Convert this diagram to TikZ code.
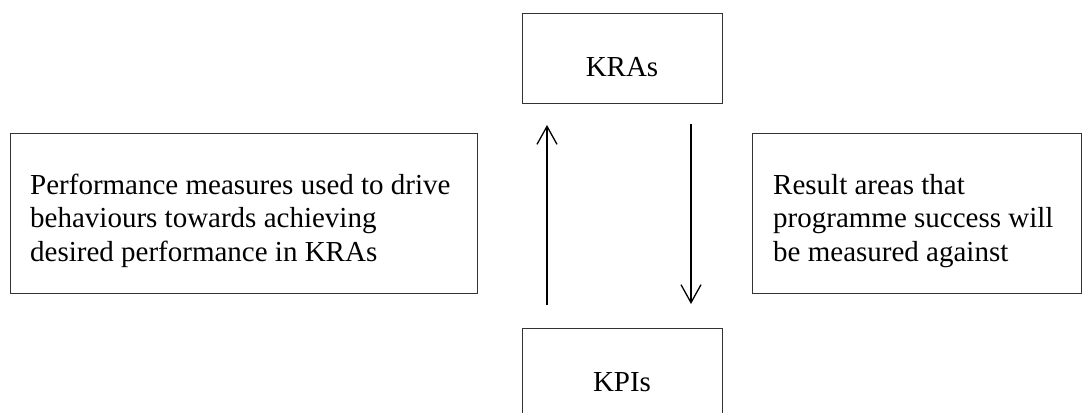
\documentclass[tikz,border=0pt]{standalone}
\usepackage{fontspec}
\setmainfont{Liberation Serif}
\usetikzlibrary{arrows.meta}
\begin{document}
\begin{tikzpicture}[x=1pt,y=-1pt,
  box/.style={draw=black!80, line width=1.3pt, rectangle, inner sep=0pt, anchor=north west},
  txt/.style={inner sep=0pt, font=\fontsize{29}{33.5}\selectfont},
  flow/.style={line width=1.3pt, -{Straight Barb[length=18pt,width=20pt,line width=1.3pt]}}]
\useasboundingbox (0,0) rectangle (1091,412);

% boxes (the KPIs box runs past the bottom of the page)
\node[box, minimum width=200pt, minimum height=90pt] (kras) at (522,13) {};
\node[box, minimum width=200pt, minimum height=90pt] (kpis) at (522,328) {};
\node[box, minimum width=467pt, minimum height=160pt] (measures) at (10,133) {};
\node[box, minimum width=329pt, minimum height=160pt] (areas) at (752,133) {};

% texts
\node[txt, anchor=base] (krastext) at (622,77) {KRAs};
\node[txt, anchor=base] (kpistext) at (622,391) {KPIs};
\node[txt, anchor=base west] (measurestext) at (30,194)
  {Performance measures used to drive};
\node[txt, anchor=base west] (measurestext2) at (30,227.5)
  {behaviours towards achieving};
\node[txt, anchor=base west] (measurestext3) at (30,261)
  {desired performance in KRAs};
\node[txt, anchor=base west] (areastext) at (773,194) {Result areas that};
\node[txt, anchor=base west] (areastext2) at (773,227.5) {programme success will};
\node[txt, anchor=base west] (areastext3) at (773,261) {be measured against};

% arrows between the two central boxes
\coordinate (upfrom) at (547,305);
\coordinate (upto) at (547,125);
\coordinate (downfrom) at (691,124);
\coordinate (downto) at (691,304);
\draw[flow] (upfrom) -- (upto);
\draw[flow] (downfrom) -- (downto);
\end{tikzpicture}
\end{document}
